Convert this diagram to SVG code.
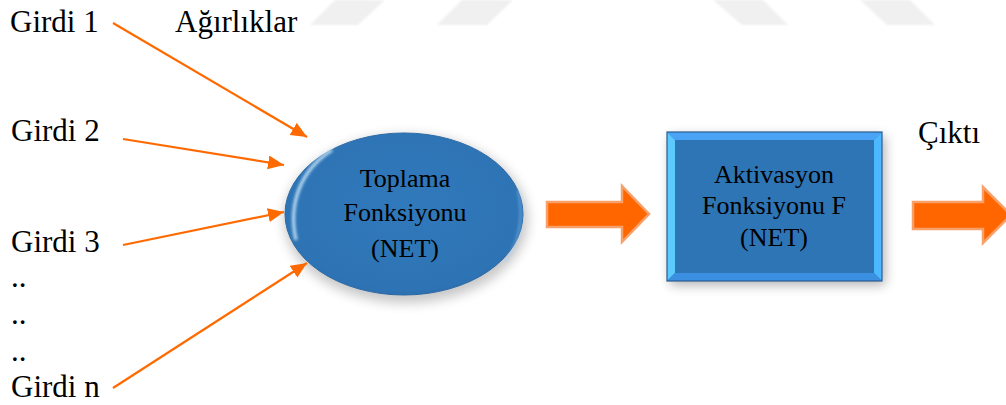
<svg xmlns="http://www.w3.org/2000/svg" width="1006" height="405" viewBox="0 0 1006 405">
  <style>
    .lbl { font-family: "Liberation Serif", "Times New Roman", serif; font-size: 31px; fill: #000; }
    .in { font-family: "Liberation Serif", "Times New Roman", serif; font-size: 26px; fill: #000; text-anchor: middle; }
    .wire { stroke: #ff6a00; stroke-width: 2.2; fill: none; }
    .block { fill: #ff6600; stroke: #f7a06a; stroke-width: 2.5; stroke-linejoin: miter; }
    .mark { fill: #f0f0f0; }
  </style>
  <defs>
    <marker id="head" markerUnits="userSpaceOnUse" markerWidth="18" markerHeight="16" refX="16" refY="7" orient="auto">
      <path d="M0,0 L16,7 L0,14 Z" fill="#ff6a00"/>
    </marker>
    <filter id="soft" x="-30%" y="-30%" width="160%" height="160%">
      <feGaussianBlur stdDeviation="6"/>
    </filter>
    <filter id="haze" x="-10%" y="-10%" width="120%" height="120%">
      <feGaussianBlur stdDeviation="1"/>
    </filter>
    <filter id="glint" x="-30%" y="-30%" width="160%" height="160%">
      <feGaussianBlur stdDeviation="1.5"/>
    </filter>
    <radialGradient id="ellFill" cx="50%" cy="45%" r="60%">
      <stop offset="0" stop-color="#3079bb"/>
      <stop offset="0.85" stop-color="#2e74b5"/>
      <stop offset="1" stop-color="#2a6aa8"/>
    </radialGradient>
  </defs>

  <!-- faint background bands along the top edge -->
  <g id="bands" filter="url(#haze)">
    <polygon class="mark" points="335,0 385,0 358,25 310,25"/>
    <polygon class="mark" points="462,0 513,0 487,25 437,25"/>
    <polygon class="mark" points="713,0 763,0 788,25 742,25"/>
    <polygon class="mark" points="860,0 910,0 935,25 887,25"/>
  </g>

  <!-- input labels -->
  <g id="inputs">
    <text class="lbl" x="10" y="32">Girdi 1</text>
    <text class="lbl" x="175" y="32">Ağırlıklar</text>
    <text class="lbl" x="11" y="141">Girdi 2</text>
    <text class="lbl" x="11" y="252">Girdi 3</text>
    <text class="lbl" x="11" y="287">..</text>
    <text class="lbl" x="11" y="324">..</text>
    <text class="lbl" x="11" y="361">..</text>
    <text class="lbl" x="11" y="397">Girdi n</text>
  </g>

  <!-- summation node -->
  <g id="sum">
    <ellipse cx="406" cy="219" rx="122" ry="84" fill="#000" opacity="0.22" filter="url(#soft)"/>
    <ellipse cx="404" cy="214" rx="119" ry="81" fill="url(#ellFill)" stroke="#2b6aa5" stroke-width="1"/>
    <path d="M296,240 C288,205 300,170 332,150" fill="none" stroke="#d6eeff" stroke-width="3" opacity="0.9" filter="url(#glint)"/>
    <path d="M506,262 C520,240 524,215 518,190" fill="none" stroke="#9ccfff" stroke-width="2" opacity="0.5" filter="url(#glint)"/>
    <text class="in" x="405" y="187">Toplama</text>
    <text class="in" x="405" y="221">Fonksiyonu</text>
    <text class="in" x="405" y="257">(NET)</text>
  </g>

  <!-- activation node -->
  <g id="activation">
    <rect x="670" y="136" width="215" height="149" fill="#000" opacity="0.3" filter="url(#soft)"/>
    <rect x="667" y="132" width="215" height="149" fill="#2e75b6"/>
    <polygon points="667,132 882,132 874,140 675,140" fill="#4aa3f5"/>
    <polygon points="667,132 675,140 675,273 667,281" fill="#5cc9ff"/>
    <polygon points="882,132 882,281 874,273 874,140" fill="#4cb8ff"/>
    <polygon points="667,281 675,273 874,273 882,281" fill="#3b8fe0"/>
    <rect x="667" y="132" width="215" height="149" fill="none" stroke="#2a5d90" stroke-width="1.2"/>
    <text class="in" x="774" y="183">Aktivasyon</text>
    <text class="in" x="774" y="214">Fonksiyonu F</text>
    <text class="in" x="774" y="246">(NET)</text>
  </g>

  <!-- output label -->
  <g id="output">
    <text class="lbl" x="918" y="143">Çıktı</text>
  </g>

  <!-- connectors -->
  <g id="connectors">
    <line class="wire" x1="113" y1="23" x2="307" y2="137" marker-end="url(#head)"/>
    <line class="wire" x1="123" y1="139" x2="284" y2="165" marker-end="url(#head)"/>
    <line class="wire" x1="123" y1="245" x2="284" y2="212" marker-end="url(#head)"/>
    <line class="wire" x1="113" y1="388" x2="307" y2="263" marker-end="url(#head)"/>
    <polygon class="block" points="547,202 622,202 622,186 649,214 622,242 622,227 547,227"/>
    <polygon class="block" points="913,202 983,202 983,187 1011,215 983,243 983,229 913,229"/>
  </g>
</svg>
